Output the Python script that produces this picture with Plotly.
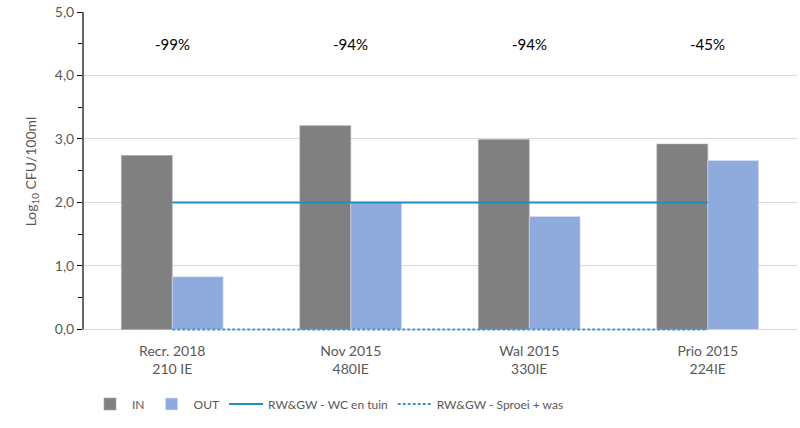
import plotly.graph_objects as go

# Data
categories = ["Recr. 2018<br>210 IE", "Nov 2015<br>480IE", "Wal 2015<br>330IE", "Prio 2015<br>224IE"]
in_values = [2.74, 3.21, 2.99, 2.92]
out_values = [0.83, 2.00, 1.78, 2.66]
reduction_labels = ["-99%", "-94%", "-94%", "-45%"]
norm_wc_tuin = [2.0, 2.0, 2.0, 2.0]
norm_sproei_was = [0.0, 0.0, 0.0, 0.0]
label_level = 4.5

FONT = "Lato"
TEXT_GREY = "#595959"

fig = go.Figure()
fig.add_trace(go.Bar(x=categories, y=in_values, name="IN",
                     marker=dict(color="#808080", line=dict(color="#a6a6a6", width=0.6))))
fig.add_trace(go.Bar(x=categories, y=out_values, name="OUT",
                     marker=dict(color="#8faadc", line=dict(color="#dae3f3", width=0.6))))
fig.add_trace(go.Scatter(x=categories, y=norm_wc_tuin, mode="lines", name="RW&GW - WC en tuin",
                         line=dict(color="#1f8fbf", width=2)))
fig.add_trace(go.Scatter(x=categories, y=norm_sproei_was, mode="lines", name="RW&GW - Sproei + was",
                         line=dict(color="#4a90d9", width=2, dash="3px,2px")))

for cat, lab in zip(categories, reduction_labels):
    fig.add_annotation(x=cat, y=label_level, text=lab, showarrow=False,
                       font=dict(family=FONT, size=15, color="#000000"))

fig.update_layout(
    width=800, height=428,
    margin=dict(l=83, r=3, t=12, b=97, autoexpand=False),
    paper_bgcolor="white", plot_bgcolor="white",
    separators=",.",
    barmode="group", bargap=0.43, bargroupgap=0,
    font=dict(family=FONT, size=14, color=TEXT_GREY),
    legend=dict(orientation="h", xref="container", yref="container",
                x=88 / 800, xanchor="left", y=1 - 404 / 428, yanchor="middle",
                font=dict(family=FONT, size=12, color=TEXT_GREY), traceorder="normal",
                itemwidth=34),
    xaxis=dict(showgrid=False, showline=False, ticks="",
               ticklabelstandoff=10,
               tickfont=dict(family=FONT, size=14, color=TEXT_GREY)),
    yaxis=dict(range=[-0.025, 5], dtick=1, tickformat=".1f", showgrid=True, gridcolor="#d9d9d9",
               showline=False,
               ticks="outside", ticklen=5, tickcolor="#000000",
               minor=dict(dtick=0.5, ticks="outside", ticklen=4, tickcolor="#000000", showgrid=False),
               zeroline=False,
               tickfont=dict(family=FONT, size=14, color=TEXT_GREY),
               title=dict(text="Log<sub>10</sub> CFU/100ml", font=dict(family=FONT, size=14, color=TEXT_GREY),
                          standoff=14)),
    shapes=[dict(type="line", xref="paper", yref="y", x0=0, x1=0, y0=0, y1=5,
                 line=dict(color="#000000", width=1.2), layer="above")],
)

fig.write_html("out.html")
